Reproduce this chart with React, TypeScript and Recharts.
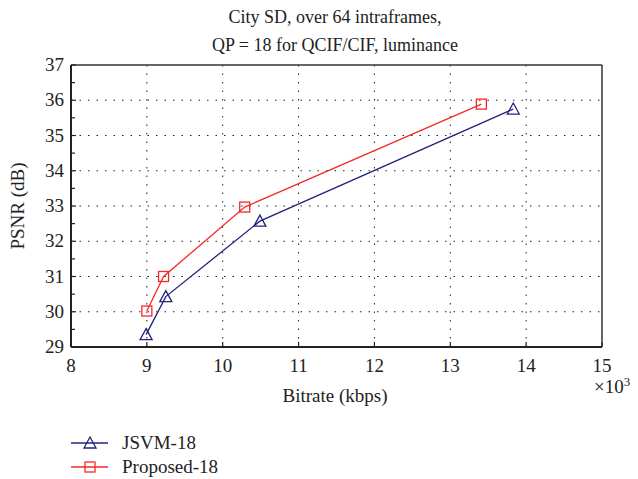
import React from 'react';
import { LineChart, Line, XAxis, YAxis, CartesianGrid } from 'recharts';

// bitrate in kbps ×10^3, PSNR in dB
const jsvmBitrate = [8.99, 9.25, 10.49, 13.83];
const jsvmPsnr = [29.35, 30.43, 32.57, 35.75];
const proposedBitrate = [9.0, 9.22, 10.29, 13.41];
const proposedPsnr = [30.02, 31.0, 32.97, 35.89];

const xTicks = [8, 9, 10, 11, 12, 13, 14, 15];
const yTicks = [29, 29.5, 30, 30.5, 31, 31.5, 32, 32.5, 33, 33.5, 34, 34.5, 35, 35.5, 36, 36.5, 37];
const yGrid = [30, 31, 32, 33, 34, 35, 36];
const xGrid = [9, 10, 11, 12, 13, 14];

const titleLines = ['City SD, over 64 intraframes,', 'QP = 18 for QCIF/CIF, luminance'];

const BLUE = '#23237a';
const RED = '#f52828';
const FONT = '"Liberation Serif", "DejaVu Serif", serif';

const jsvmData = jsvmBitrate.map((x, i) => ({ x, y: jsvmPsnr[i] }));
const proposedData = proposedBitrate.map((x, i) => ({ x, y: proposedPsnr[i] }));

const Triangle = (props: any) => {
  const { cx, cy } = props;
  if (cx == null || cy == null) return null;
  return (
    <path
      d={`M${cx},${cy - 6} L${cx + 6},${cy + 5} L${cx - 6},${cy + 5} Z`}
      fill="none"
      stroke={BLUE}
      strokeWidth={1.3}
    />
  );
};

const Square = (props: any) => {
  const { cx, cy } = props;
  if (cx == null || cy == null) return null;
  return <rect x={cx - 5} y={cy - 5} width={10} height={10} fill="none" stroke={RED} strokeWidth={1.3} />;
};

const XTick = (props: any) => {
  const { x, y, payload } = props;
  return (
    <g>
      <line x1={x} y1={y} x2={x} y2={y - 5} stroke="#222" strokeWidth={1.2} />
      <text x={x} y={y + 25} textAnchor="middle" fontSize={19} fill="#222" fontFamily={FONT}>
        {payload.value}
      </text>
    </g>
  );
};

const YTick = (props: any) => {
  const { x, y, payload } = props;
  const isInt = Number.isInteger(payload.value);
  return (
    <g>
      <line x1={x} y1={y} x2={x + (isInt ? 5 : 4)} y2={y} stroke="#222" strokeWidth={1.2} />
      {isInt && (
        <text x={x - 7} y={y + 6} textAnchor="end" fontSize={19} fill="#222" fontFamily={FONT}>
          {payload.value}
        </text>
      )}
    </g>
  );
};

const LegendRow = ({ label, color, marker, top }: { label: string; color: string; marker: 'tri' | 'sq'; top: number }) => (
  <div style={{ position: 'absolute', left: 70, top, display: 'flex', alignItems: 'center', height: 20 }}>
    <svg width={40} height={20}>
      <line x1={1} y1={10} x2={38} y2={10} stroke={color} strokeWidth={1.3} />
      {marker === 'tri' ? (
        <path d="M20,4 L26,15 L14,15 Z" fill="none" stroke={color} strokeWidth={1.3} />
      ) : (
        <rect x={15} y={5} width={10} height={10} fill="none" stroke={color} strokeWidth={1.3} />
      )}
    </svg>
    <span style={{ marginLeft: 12, fontSize: 19, color: '#222', fontFamily: FONT }}>{label}</span>
  </div>
);

export default function App() {
  return (
    <div style={{ position: 'absolute', left: 0, top: 0, width: 638, height: 479, background: '#fff', fontFamily: FONT }}>
      <div style={{ position: 'absolute', left: 0, width: 638, top: 3, textAlign: 'center', fontSize: 18, lineHeight: '28px', color: '#222' }}>
        {titleLines.map((t) => (
          <div key={t} style={{ paddingLeft: 32 }}>{t}</div>
        ))}
      </div>
      <LineChart width={638} height={479} margin={{ top: 64, right: 35, bottom: 131, left: 70 }}>
        <CartesianGrid
          stroke="#222"
          strokeDasharray="1.5 7"
          horizontalValues={yGrid}
          verticalValues={xGrid}
        />
        <XAxis
          dataKey="x"
          type="number"
          domain={[8, 15]}
          ticks={xTicks}
          height={1}
          tickSize={0}
          tickMargin={0}
          tick={<XTick />}
          tickLine={false}
          axisLine={{ stroke: '#222', strokeWidth: 2 }}
          interval={0}
          allowDataOverflow
        />
        <XAxis
          xAxisId="top"
          orientation="top"
          type="number"
          domain={[8, 15]}
          height={1}
          tick={false}
          tickLine={false}
          axisLine={{ stroke: '#333', strokeWidth: 1.5 }}
        />
        <YAxis
          dataKey="y"
          type="number"
          domain={[29, 37]}
          ticks={yTicks}
          width={1}
          tickSize={0}
          tickMargin={0}
          tick={<YTick />}
          tickLine={false}
          axisLine={{ stroke: '#222', strokeWidth: 2 }}
          interval={0}
          allowDataOverflow
        />
        <YAxis
          yAxisId="right"
          orientation="right"
          type="number"
          domain={[29, 37]}
          width={1}
          tick={false}
          tickLine={false}
          axisLine={{ stroke: '#333', strokeWidth: 1.5 }}
        />
        <Line
          data={jsvmData}
          dataKey="y"
          stroke={BLUE}
          strokeWidth={1.3}
          dot={<Triangle />}
          activeDot={false}
          isAnimationActive={false}
        />
        <Line
          data={proposedData}
          dataKey="y"
          stroke={RED}
          strokeWidth={1.3}
          dot={<Square />}
          activeDot={false}
          isAnimationActive={false}
        />
      </LineChart>
      <div style={{ position: 'absolute', left: 0, width: 670, top: 385, textAlign: 'center', fontSize: 19, color: '#222' }}>
        Bitrate (kbps)
      </div>
      <div style={{ position: 'absolute', left: 594, top: 374, fontSize: 19, color: '#222' }}>
        ×10<sup style={{ fontSize: 13 }}>3</sup>
      </div>
      <div
        style={{
          position: 'absolute',
          left: 18,
          top: 206,
          fontSize: 19,
          color: '#222',
          transform: 'translate(-50%, -50%) rotate(-90deg)',
          whiteSpace: 'nowrap',
        }}
      >
        PSNR (dB)
      </div>
      <LegendRow label="JSVM-18" color={BLUE} marker="tri" top={433} />
      <LegendRow label="Proposed-18" color={RED} marker="sq" top={457} />
    </div>
  );
}
